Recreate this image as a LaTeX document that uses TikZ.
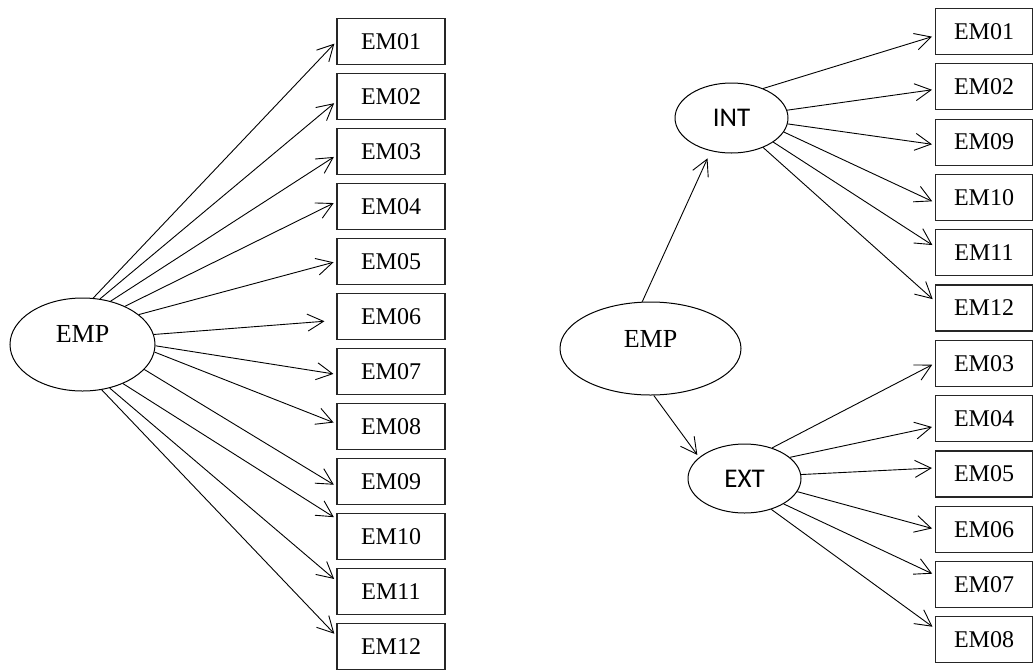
\documentclass[tikz,border=0pt]{standalone}
\usepackage{fontspec}
\setmainfont{Liberation Serif}
\newfontfamily\sansfont{Carlito}
\usetikzlibrary{arrows.meta,shapes.geometric}
\tikzset{
  item/.style={rectangle, draw=black!85, line width=0.6pt, inner sep=0pt,
               minimum width=54pt, minimum height=23pt, font=\fontsize{12}{14}\selectfont},
  latent/.style={ellipse, draw, line width=0.5pt, inner sep=0pt, font=\fontsize{13}{15}\selectfont},
  factor/.style={latent, font=\sansfont\fontsize{13.5}{15}\selectfont},
  load/.style={-{Straight Barb[length=8pt, width=8.5pt]}, line width=0.45pt, shorten >=1.5pt}
}
\begin{document}
\begin{tikzpicture}[x=0.5pt, y=-0.5pt]
 \useasboundingbox (0,0) rectangle (1034,671);
 % one-factor model
 \node[latent, minimum width=72.5pt, minimum height=46.5pt, text height=9pt, text depth=10.9pt] (emp) at (82.5,344.5) {EMP};
 \foreach \n [count=\k from 0] in {01,02,03,04,05,06,07,08,09,10,11,12}
   \node[item] (l\n) at (391,{41.5+55*\k}) {EM\n};
 \foreach \n/\s/\t/\g in {01/77/180/1.5, 02/69/185/1.5, 03/57/184/1.5, 04/42.5/175/1.5,
     05/28/180/1.5, 06/8.6/184/6, 07/359/183/1.5, 08/354/177/1.5, 09/338/185/1.5,
     10/316/162/1.5, 11/302/169.5/1.5, 12/293/169/1.5}
   \draw[load, shorten >=\g pt] (emp.\s) -- (l\n.\t);
 % second-order model
 \node[latent, minimum width=90.5pt, minimum height=46.5pt, text height=9pt, text depth=9.9pt] (emp2) at (650.5,348.5) {EMP};
 \node[factor, minimum width=56.5pt, minimum height=35pt] (int) at (731.5,118) {INT};
 \node[factor, minimum width=56.5pt, minimum height=34.5pt] (ext) at (744.5,478.5) {EXT};
 \foreach \n [count=\k from 0] in {01,02,09,10,11,12,03,04,05,06,07,08}
   \node[item, minimum width=48.5pt] (r\n) at (984,{31.5+55.3*\k}) {EM\n};
 \draw[load, shorten >=4pt] (emp2.100) -- (int.238);
 \draw[load] (emp2.274) -- (ext.155);
 \foreach \n/\s/\t in {01/43.6/185, 02/8/183, 09/354/183, 10/345/186.5, 11/330/173, 12/317/172}
   \draw[load] (int.\s) -- (r\n.\t);
 \foreach \n/\s/\t in {03/48.6/180, 04/25/189, 05/4.5/173, 06/346/180, 07/327/169, 08/311/167}
   \draw[load] (ext.\s) -- (r\n.\t);
\end{tikzpicture}
\end{document}
